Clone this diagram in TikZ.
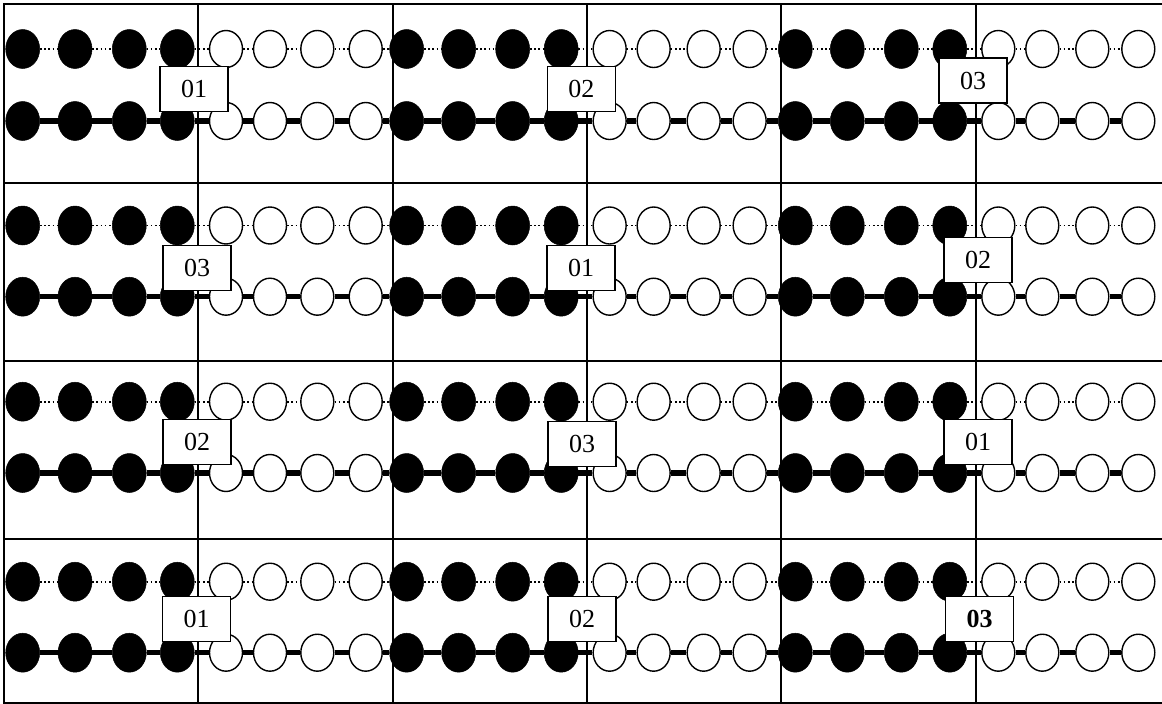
\documentclass[tikz,border=0pt]{standalone}
\usepackage{fontspec}
\setmainfont{Liberation Serif}
\usetikzlibrary{shapes.geometric}

\tikzset{
  gridline/.style={line width=2pt},
  bead/.style={shape=ellipse, inner sep=0pt, minimum width=33pt, minimum height=37pt, line width=1.4pt},
  fullbead/.style={bead, fill=black, draw=black, line width=0.5pt, minimum width=34pt, minimum height=39pt},
  hollowbead/.style={bead, fill=white, draw=black},
  thinlink/.style={line width=1.8pt, dash pattern=on 1.6pt off 2.6pt},
  thicklink/.style={line width=5.5pt},
  tag/.style={draw=black, fill=white, line width=1.3pt, inner sep=0pt,
    minimum width=68pt, minimum height=45pt, font=\fontsize{26}{28}\selectfont}
}

\begin{document}
\begin{tikzpicture}[x=1pt, y=-1pt]
\useasboundingbox (0,0) rectangle (1162,704);

% table grid
\foreach \gx in {4,198.3,392.7,587,781.3,975.5}
  \draw[gridline] (\gx,4) -- (\gx,702.7);
\foreach \gy in {4,182.7,360.7,539,702.7}
  \draw[gridline] (3,\gy) -- (1170,\gy);

% beads: 4 rows, each with a dotted strand and a solid strand of 24 beads
\foreach \r/\ytop/\ybot in {1/49/121, 2/225.5/296.7, 3/401.7/473, 4/581.7/652.7} {
  \foreach \g in {1,2,3} {
    \foreach \i in {1,...,8} {
      \pgfmathsetmacro{\offA}{{18.7,71,125.3,173.3,222,266,313.3,361.7}[\i-1]}
      \pgfmathsetmacro{\offB}{{14,66,120,168.5,217,261,311,357}[\i-1]}
      \pgfmathsetmacro{\bx}{4+(\g-1)*388.65+(\g==1 ? \offA : \offB)}
      \pgfmathtruncatemacro{\k}{(\g-1)*8+\i}
      \ifnum\i<5
        \node[fullbead] (t\r-\k) at (\bx,\ytop) {};
        \node[fullbead] (b\r-\k) at (\bx,\ybot) {};
      \else
        \node[hollowbead] (t\r-\k) at (\bx,\ytop) {};
        \node[hollowbead] (b\r-\k) at (\bx,\ybot) {};
      \fi
    }
  }
  \foreach \k [evaluate=\k as \n using int(\k+1)] in {1,...,23} {
    \draw[thinlink] (t\r-\k) -- (t\r-\n);
    \draw[thicklink] (b\r-\k) -- (b\r-\n);
  }
}

% number tags
\node[tag] (n11) at (194,89) {01};
\node[tag] (n12) at (581.3,88.8) {02};
\node[tag] (n13) at (973,80.5) {03};
\node[tag] (n21) at (197,268) {03};
\node[tag] (n22) at (581,267.8) {01};
\node[tag] (n23) at (978,260) {02};
\node[tag] (n31) at (197,442) {02};
\node[tag] (n32) at (582,444) {03};
\node[tag] (n33) at (978,442) {01};
\node[tag] (n41) at (196.5,619) {01};
\node[tag] (n42) at (582,619) {02};
\node[tag] (n43) at (979.5,618.8) {\textbf{03}};
\end{tikzpicture}
\end{document}
